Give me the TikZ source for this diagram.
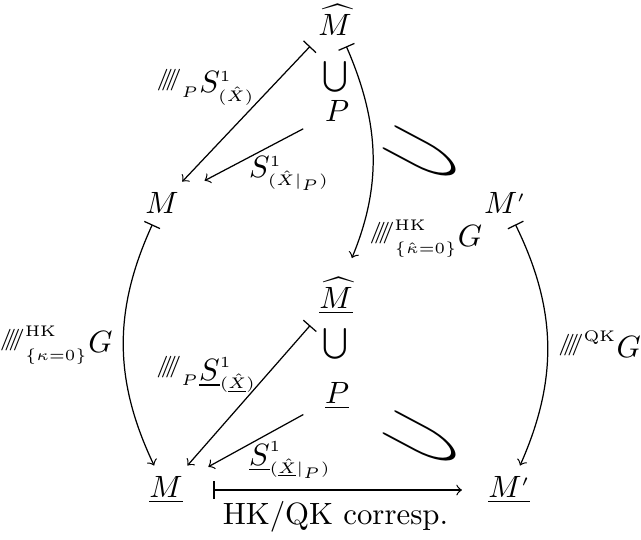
\documentclass[tikz,border=0pt]{standalone}
\usepackage{amsmath,amssymb}
\DeclareMathSizes{10}{10}{5}{5}
\newcommand{\fourslash}{\mathord{\raisebox{2.5pt}{\fontsize{7}{8}\selectfont /\kern-2.6pt/\kern-2.6pt/\kern-2.6pt/}}}
\tikzset{
  curl/.style={
    rotate=-28,
    inner sep=0
  },
  restr/.style={
    ->,
    shorten <=4pt,
    shorten >=5.5pt
  }
}
\begin{document}
\begin{tikzpicture}
    \useasboundingbox (0,0) rectangle (7.315,-6.162);
    \node (mh) at (3.823,-0.228) {$\widehat{M}$};
    \node (cup1) at (3.823,-0.879) {$\bigcup$};
    \node (p) at (3.846,-1.267) {$P$};
    \node (m) at (1.849,-2.317) {$M$};
    \node (mp) at (5.763,-2.317) {$M'$};
    \node (mhu) at (3.834,-3.378) {$\underline{\widehat{M}}$};
    \node (cup2) at (3.823,-3.926) {$\bigcup$};
    \node (pu) at (3.846,-4.519) {$\underline{P}$};
    \node (mu) at (1.894,-5.592) {$\underline{M}$};
    \node (mpu) at (5.809,-5.592) {$\underline{M'}$};
    \foreach \n/\y in {1/-1.769,2/-5.021}{
        \node[curl] (c\n) at (4.816,\y) {\scalebox{4}[1.5]{$\supset$}};
    }
    \draw[|->] (mh) -- (m) node[pos=.3, left=2pt] {$\fourslash_P S^1_{(\hat X)}$};
    \draw[restr] (p) -- (m) node[pos=.2, below=3pt] {$S^1_{(\hat X|_P)}$};
    \draw[|->, shorten >=3pt] (mh) to[bend left=23] node[pos=.88, right] {$\fourslash^{\mathrm{HK}}_{\{\hat\kappa=0\}}G$} (mhu);
    \draw[|->] (m) to[bend right=25] node[left] {$\fourslash^{\mathrm{HK}}_{\{\kappa=0\}}G$} (mu);
    \draw[|->] (mp) to[bend left=25] node[right] {$\fourslash^{\mathrm{QK}}G$} (mpu);
    \draw[|->] (mhu) -- (mu) node[pos=.35, left] {$\fourslash_P \underline{S}^1_{(\underline{\hat X})}$};
    \draw[restr] (pu) -- (mu) node[pos=.2, below=3pt] {$\underline{S}^1_{(\underline{\hat X}|_P)}$};
    \draw[|->, shorten <=6.5pt, shorten >=5pt] (mu) -- (mpu) node[midway, below] {HK/QK corresp.};
\end{tikzpicture}
\end{document}
